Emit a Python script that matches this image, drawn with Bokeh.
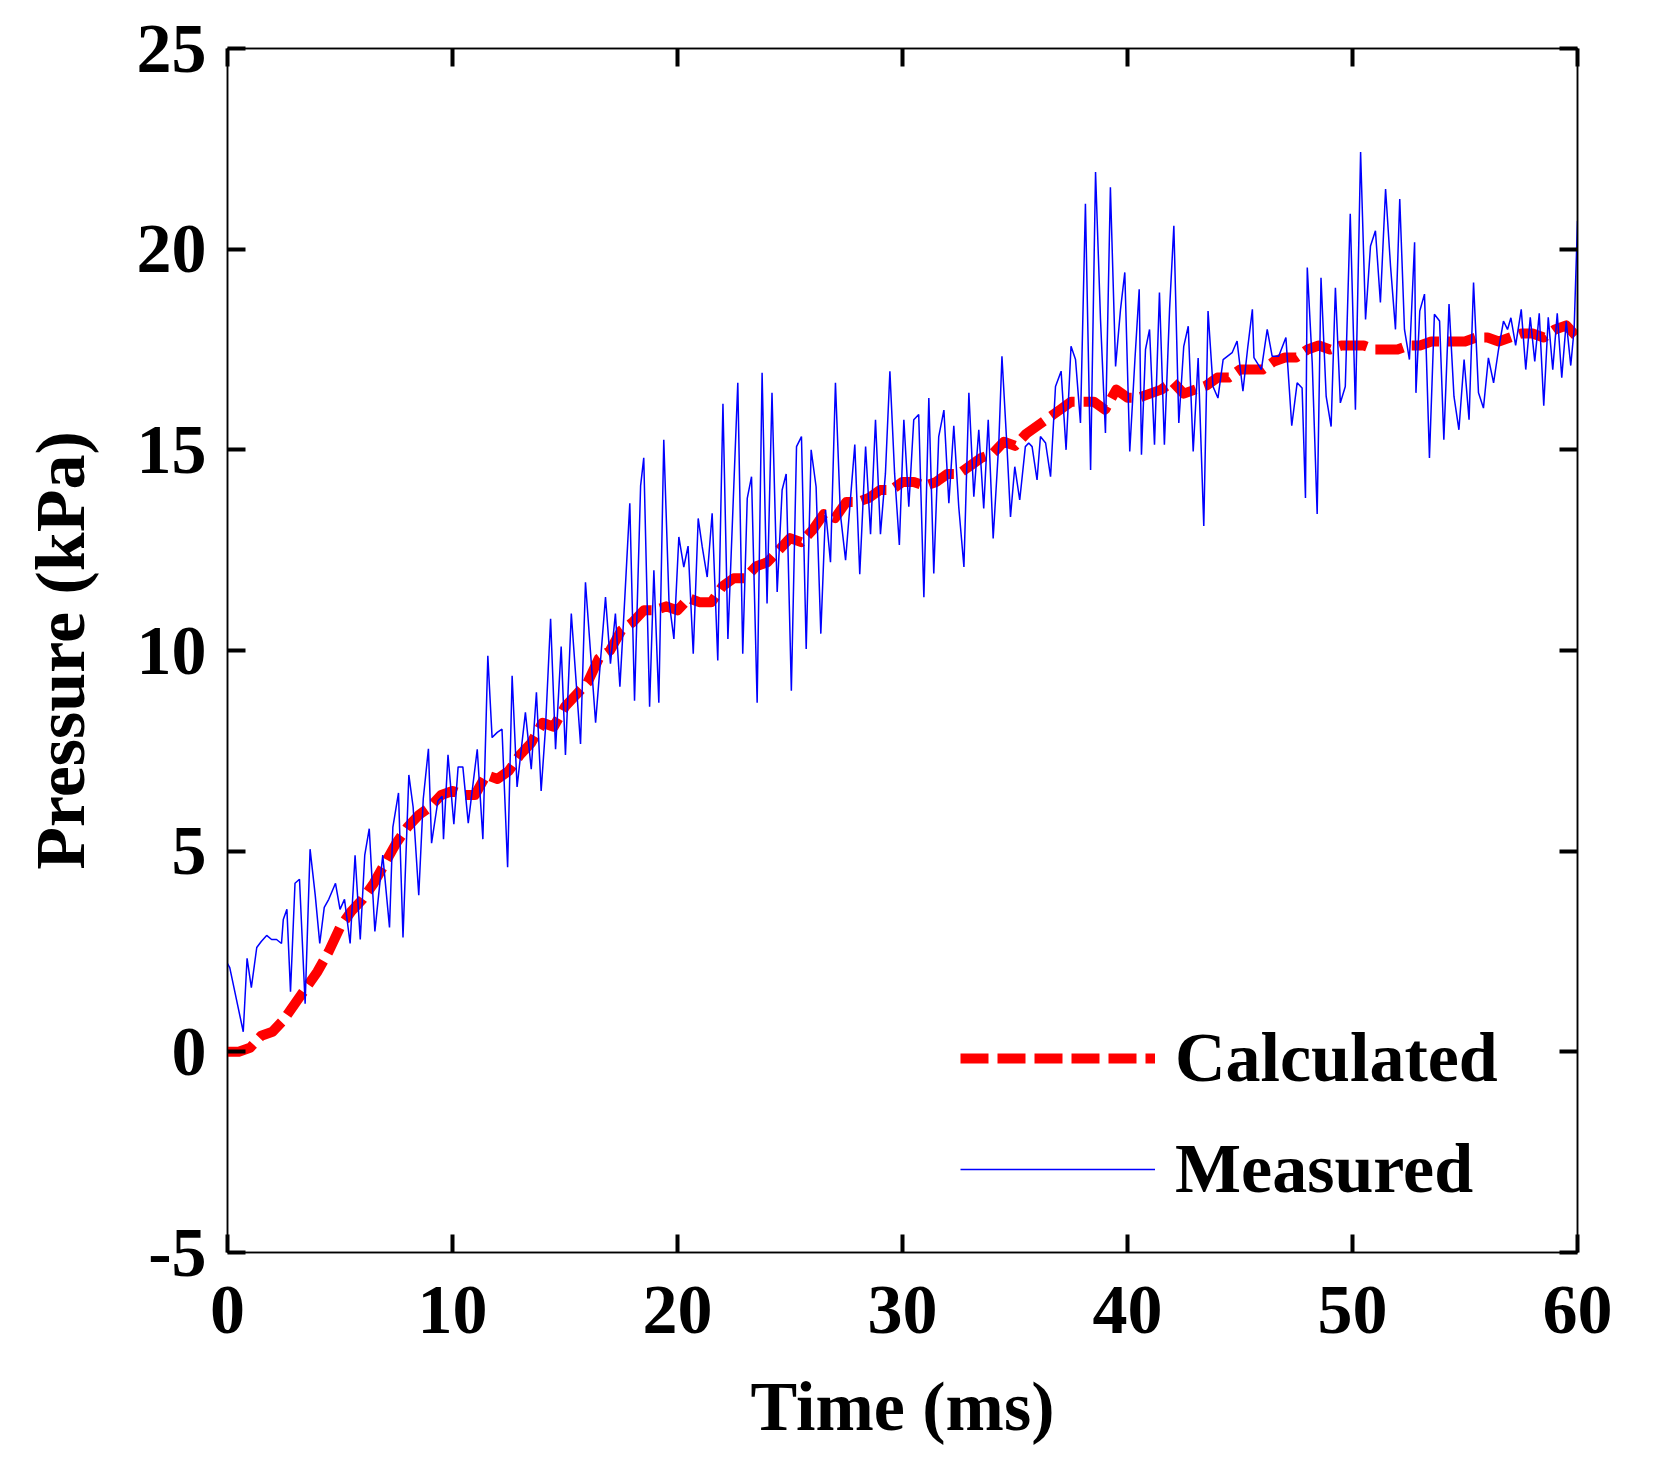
from bokeh.embed import file_html
from bokeh.models import FixedTicker, Legend, LegendItem, LinearAxis, Range1d
from bokeh.plotting import figure
from bokeh.resources import INLINE

FONT = "Liberation Serif"

x_ticks = [0, 10, 20, 30, 40, 50, 60]
y_ticks = [-5, 0, 5, 10, 15, 20, 25]

# calculated pressure (kPa), every 0.5 ms
calc_time = [0, 0.5, 1, 1.5, 2, 2.5, 3, 3.5, 4, 4.5, 5, 5.5, 6, 6.5, 7, 7.5, 8, 8.5, 9, 9.5,
             10, 10.5, 11, 11.5, 12, 12.5, 13, 13.5, 14, 14.5, 15, 15.5, 16, 16.5, 17, 17.5, 18, 18.5, 19, 19.5,
             20, 20.5, 21, 21.5, 22, 22.5, 23, 23.5, 24, 24.5, 25, 25.5, 26, 26.5, 27, 27.5, 28, 28.5, 29, 29.5,
             30, 30.5, 31, 31.5, 32, 32.5, 33, 33.5, 34, 34.5, 35, 35.5, 36, 36.5, 37, 37.5, 38, 38.5, 39, 39.5,
             40, 40.5, 41, 41.5, 42, 42.5, 43, 43.5, 44, 44.5, 45, 45.5, 46, 46.5, 47, 47.5, 48, 48.5, 49, 49.5,
             50, 50.5, 51, 51.5, 52, 52.5, 53, 53.5, 54, 54.5, 55, 55.5, 56, 56.5, 57, 57.5, 58, 58.5, 59, 59.5,
             60]
calc_pressure = [0.0, 0.0, 0.1, 0.4, 0.5, 0.8, 1.2, 1.6, 2.0, 2.5, 3.1, 3.5, 3.8, 4.2, 4.7, 5.2, 5.6, 5.9, 6.1, 6.4,
                 6.5, 6.4, 6.4, 6.9, 6.8, 7.0, 7.4, 7.7, 8.2, 8.1, 8.6, 8.9, 9.2, 9.8, 10.0, 10.5, 10.7, 11.0, 11.0, 11.1,
                 11.0, 11.3, 11.2, 11.2, 11.6, 11.8, 11.8, 12.1, 12.2, 12.5, 12.8, 12.7, 13.0, 13.4, 13.3, 13.7, 13.7, 13.8, 14.0, 14.0,
                 14.2, 14.2, 14.1, 14.2, 14.4, 14.4, 14.6, 14.8, 14.9, 15.2, 15.1, 15.4, 15.6, 15.8, 16.0, 16.2, 16.2, 16.2, 16.0, 16.5,
                 16.3, 16.3, 16.4, 16.5, 16.7, 16.4, 16.5, 16.6, 16.8, 16.8, 17.0, 17.0, 17.0, 17.2, 17.3, 17.3, 17.5, 17.6, 17.5, 17.6,
                 17.6, 17.6, 17.5, 17.5, 17.5, 17.6, 17.6, 17.7, 17.7, 17.7, 17.7, 17.8, 17.8, 17.7, 17.8, 17.9, 17.9, 17.8, 18.0, 18.1,
                 17.8]

# measured pressure (kPa), peaks and troughs
meas_time = [0.0, 0.1, 0.7, 0.87, 1.06, 1.3, 1.5, 1.74, 1.96, 2.18, 2.4, 2.48, 2.64, 2.8, 3.0, 3.2, 3.45, 3.67, 3.9, 4.1,
             4.3, 4.5, 4.8, 5.0, 5.2, 5.45, 5.67, 5.9, 6.1, 6.3, 6.55, 6.9, 7.2, 7.35, 7.6, 7.8, 8.06, 8.25, 8.5, 8.7,
             8.93, 9.07, 9.35, 9.54, 9.6, 9.8, 10.06, 10.25, 10.46, 10.7, 11.1, 11.35, 11.57, 11.76, 11.99, 12.2, 12.45, 12.65, 12.87, 13.24,
             13.5, 13.73, 13.94, 14.13, 14.36, 14.58, 14.83, 15.02, 15.28, 15.69, 15.91, 16.36, 16.8, 17.02, 17.24, 17.44, 17.66, 17.88, 18.09, 18.36,
             18.5, 18.76, 18.95, 19.17, 19.39, 19.62, 19.84, 20.06, 20.28, 20.47, 20.7, 20.92, 21.1, 21.32, 21.54, 21.79, 22.02, 22.24, 22.68, 22.9,
             23.1, 23.29, 23.54, 23.76, 23.98, 24.2, 24.43, 24.65, 24.83, 25.06, 25.29, 25.51, 25.72, 25.94, 26.16, 26.37, 26.58, 26.8, 27.02, 27.24,
             27.47, 27.88, 28.1, 28.36, 28.58, 28.8, 29.02, 29.24, 29.44, 29.65, 29.86, 30.06, 30.28, 30.5, 30.72, 30.95, 31.17, 31.39, 31.61, 31.84,
             32.06, 32.28, 32.5, 32.73, 32.95, 33.17, 33.39, 33.61, 33.81, 34.03, 34.28, 34.42, 34.65, 34.8, 34.99, 35.21, 35.46, 35.61, 35.76, 35.98,
             36.13, 36.36, 36.58, 36.8, 37.05, 37.27, 37.49, 37.69, 37.91, 38.13, 38.36, 38.58, 38.8, 39.02, 39.24, 39.47, 39.69, 39.88, 40.1, 40.33,
             40.52, 40.62, 40.8, 40.98, 41.2, 41.42, 41.64, 41.87, 42.06, 42.28, 42.5, 42.7, 42.92, 43.14, 43.39, 43.58, 43.8, 44.02, 44.25, 44.65,
             44.87, 45.13, 45.35, 45.55, 45.62, 45.95, 46.21, 46.43, 46.72, 47.04, 47.3, 47.54, 47.76, 47.91, 47.99, 48.21, 48.43, 48.6, 48.83, 49.05,
             49.24, 49.46, 49.68, 49.9, 50.13, 50.36, 50.58, 50.8, 51.02, 51.24, 51.47, 51.69, 51.91, 52.1, 52.31, 52.53, 52.76, 52.82, 52.99, 53.2,
             53.42, 53.64, 53.87, 54.06, 54.29, 54.51, 54.73, 54.96, 55.18, 55.38, 55.6, 55.82, 56.04, 56.27, 56.49, 56.71, 56.89, 57.04, 57.25, 57.5,
             57.7, 57.9, 58.1, 58.3, 58.5, 58.7, 58.9, 59.1, 59.3, 59.5, 59.7, 59.85, 60.0]
meas_pressure = [2.2, 2.1, 0.5, 2.33, 1.6, 2.6, 2.75, 2.9, 2.8, 2.8, 2.7, 3.3, 3.55, 1.5, 4.2, 4.3, 1.2, 5.05, 3.9, 2.7,
                 3.6, 3.8, 4.2, 3.55, 3.8, 2.7, 4.9, 2.8, 4.9, 5.56, 3.0, 4.9, 3.1, 5.6, 6.45, 2.85, 6.9, 6.1, 3.9, 6.3,
                 7.55, 5.2, 6.25, 6.37, 5.3, 7.4, 5.67, 7.1, 7.1, 5.7, 7.54, 5.3, 9.87, 7.83, 7.96, 8.04, 4.6, 9.37, 6.6, 8.46,
                 7.04, 8.96, 6.5, 8.04, 10.79, 7.54, 10.1, 7.4, 10.92, 7.67, 11.7, 8.2, 11.33, 9.67, 10.92, 9.1, 11.33, 13.67, 8.75, 14.1,
                 14.8, 8.6, 12.0, 8.7, 15.25, 11.25, 10.29, 12.83, 12.08, 12.6, 9.92, 13.29, 12.58, 11.83, 13.42, 9.75, 16.15, 10.29, 16.67, 9.92,
                 13.79, 14.33, 8.7, 16.92, 11.17, 16.42, 11.46, 14.0, 14.4, 9.0, 15.08, 15.33, 10.04, 15.0, 14.08, 10.42, 13.5, 12.2, 16.67, 13.4,
                 12.25, 15.13, 11.9, 15.08, 12.9, 15.75, 12.9, 14.4, 16.96, 14.4, 12.63, 15.75, 13.58, 15.75, 15.88, 11.33, 16.29, 11.92, 15.33, 15.99,
                 13.67, 15.6, 13.58, 12.08, 16.42, 13.83, 15.5, 13.54, 15.75, 12.79, 15.17, 17.33, 15.0, 13.33, 14.58, 13.75, 15.08, 15.17, 15.08, 14.25,
                 15.33, 15.17, 14.33, 16.58, 16.96, 15.0, 17.58, 17.25, 15.67, 21.13, 14.5, 21.92, 18.25, 15.42, 21.54, 17.08, 18.5, 19.42, 14.96, 17.25,
                 19.0, 14.88, 17.5, 18.0, 15.13, 18.92, 15.13, 18.5, 20.58, 15.67, 17.58, 18.08, 14.96, 17.29, 13.1, 18.46, 16.58, 16.29, 17.25, 17.42,
                 17.71, 16.46, 17.58, 18.5, 17.3, 17.0, 18.0, 17.33, 17.33, 17.8, 15.6, 16.67, 16.54, 13.8, 19.54, 17.17, 13.4, 19.29, 16.33, 15.58,
                 19.04, 16.17, 16.58, 20.88, 16.0, 22.42, 18.25, 20.08, 20.46, 18.67, 21.5, 19.58, 18.0, 21.25, 18.0, 17.25, 20.17, 16.42, 18.46, 18.88,
                 14.8, 18.38, 18.21, 15.25, 18.63, 16.33, 15.5, 17.25, 15.75, 19.17, 16.42, 16.04, 17.29, 16.67, 17.5, 18.21, 18.0, 18.29, 17.6, 18.5,
                 17.0, 18.3, 17.2, 18.4, 16.1, 18.3, 17.0, 18.4, 16.8, 18.2, 17.1, 18.0, 20.7]

p = figure(width=1636, height=1466,
           x_range=Range1d(0, 60), y_range=Range1d(-5, 25),
           x_axis_label="Time (ms)", y_axis_label="Pressure (kPa)",
           output_backend="svg", toolbar_location=None,
           min_border_left=227, min_border_right=59, min_border_top=48, min_border_bottom=214)
p.background_fill_color = "white"
p.border_fill_color = "white"
p.outline_line_color = "black"
p.outline_line_width = 1.5
p.xgrid.visible = False
p.ygrid.visible = False

p.xaxis.ticker = FixedTicker(ticks=x_ticks)
p.yaxis.ticker = FixedTicker(ticks=y_ticks)
p.yaxis.major_label_overrides = {-5: "-5"}
for ax in p.xaxis + p.yaxis:
    ax.axis_line_color = "black"
    ax.axis_line_width = 1.5
    ax.major_tick_in = 18
    ax.major_tick_out = 0
    ax.major_tick_line_width = 4
    ax.minor_tick_line_color = None
    ax.major_label_text_font = FONT
    ax.major_label_text_font_style = "bold"
    ax.major_label_text_font_size = "70px"
    ax.major_label_text_color = "black"
    ax.axis_label_text_font = FONT
    ax.axis_label_text_font_style = "bold"
    ax.axis_label_text_font_size = "70px"
    ax.axis_label_text_color = "black"
p.xaxis.major_label_standoff = 34
p.xaxis.axis_label_standoff = 32
p.yaxis.major_label_standoff = 21
p.yaxis.axis_label_standoff = 35

# mirrored ticks on top and right, without labels
for ticks, side in ((x_ticks, "above"), (y_ticks, "right")):
    ax = LinearAxis(ticker=FixedTicker(ticks=ticks),
                    major_label_overrides={t: "" for t in ticks},
                    major_label_text_color=None, major_label_standoff=0,
                    major_tick_in=18, major_tick_out=0, major_tick_line_width=4,
                    minor_tick_line_color=None, axis_line_color="black", axis_line_width=1.5)
    p.add_layout(ax, side)

r_calc = p.line(calc_time, calc_pressure, color="#ff0000", line_width=10,
                line_dash="28 9", line_join="round")
r_meas = p.line(meas_time, meas_pressure, color="#0000ff", line_width=1.5)

legend = Legend(items=[LegendItem(label="Calculated", renderers=[r_calc]),
                       LegendItem(label="Measured", renderers=[r_meas])],
                location=(733, 43), glyph_width=195, glyph_height=80,
                label_standoff=20, spacing=31, padding=0, margin=0,
                border_line_color=None, background_fill_alpha=0,
                label_text_font=FONT, label_text_font_style="bold",
                label_text_font_size="70px", label_text_color="black")
p.add_layout(legend)

open("out.html", "w").write(file_html(p, INLINE))
